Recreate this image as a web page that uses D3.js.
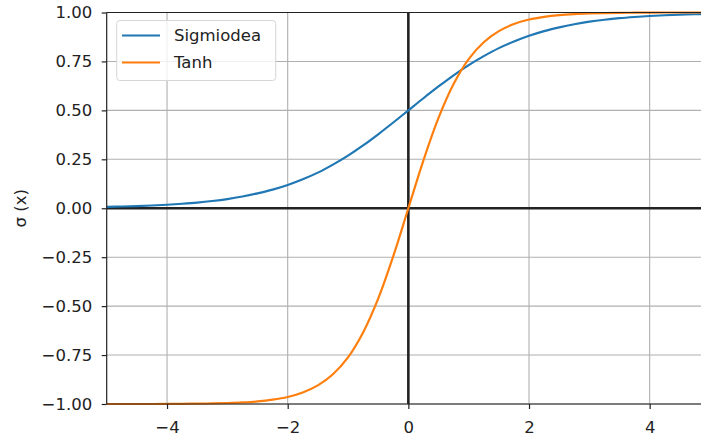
<!DOCTYPE html>
<html>
<head>
<meta charset="utf-8">
<script src="https://cdn.jsdelivr.net/npm/d3@7"></script>
<style>
  html, body { margin: 0; padding: 0; background: #fff; }
  svg { display: block; font-family: "DejaVu Sans", sans-serif; }
</style>
</head>
<body>
<svg id="chart" width="701" height="438"></svg>
<script>
// Sample positions along x
const xs = [-5, -4.75, -4.5, -4.25, -4, -3.75, -3.5, -3.25, -3, -2.75, -2.5, -2.25, -2,
  -1.75, -1.5, -1.25, -1, -0.75, -0.5, -0.25, 0, 0.25, 0.5, 0.75, 1, 1.25, 1.5, 1.75,
  2, 2.25, 2.5, 2.75, 3, 3.25, 3.5, 3.75, 4, 4.25, 4.5, 4.75, 5];

// Sigmoid curve values
const sigmoidValues = [0.007, 0.009, 0.011, 0.014, 0.018, 0.023, 0.029, 0.037, 0.047, 0.060,
  0.076, 0.095, 0.119, 0.148, 0.182, 0.223, 0.269, 0.321, 0.378, 0.438, 0.500, 0.562,
  0.622, 0.679, 0.731, 0.777, 0.818, 0.852, 0.881, 0.905, 0.924, 0.940, 0.953, 0.963,
  0.971, 0.977, 0.982, 0.986, 0.989, 0.991, 0.993];

// Tanh curve values
const tanhValues = [-1.000, -1.000, -1.000, -1.000, -0.999, -0.999, -0.998, -0.997, -0.995,
  -0.992, -0.987, -0.978, -0.964, -0.941, -0.905, -0.848, -0.762, -0.635, -0.462, -0.245,
  0.000, 0.245, 0.462, 0.635, 0.762, 0.848, 0.905, 0.941, 0.964, 0.978, 0.987, 0.992,
  0.995, 0.997, 0.998, 0.999, 0.999, 1.000, 1.000, 1.000, 1.000];

const seriesNames = ["Sigmiodea", "Tanh"];
const seriesColors = ["#1f77b4", "#ff7f0e"];
const xTicks = [-4, -2, 0, 2, 4];
const yTicks = [-1, -0.75, -0.5, -0.25, 0, 0.25, 0.5, 0.75, 1];
const yLabel = "σ (x)";

const svg = d3.select("#chart");
const plotLeft = 106.7, plotRight = 710, plotTop = 12.5, plotBottom = 404;
const fontSize = "16.5px";

const x = d3.scaleLinear().domain([-5, 5]).range([plotLeft, plotRight]);
const y = d3.scaleLinear().domain([-1, 1]).range([plotBottom, plotTop]);

const fmtY = v => d3.format(".2f")(v).replace("-", "\u2212");
const fmtX = v => String(v).replace("-", "\u2212");

// Grid
const grid = svg.append("g");
grid.selectAll("line.gx").data(xTicks).join("line")
  .attr("x1", d => x(d)).attr("x2", d => x(d))
  .attr("y1", plotTop).attr("y2", plotBottom)
  .attr("stroke", "#b0b0b0").attr("stroke-width", 1.1);
grid.selectAll("line.gy").data(yTicks).join("line")
  .attr("x1", plotLeft).attr("x2", plotRight)
  .attr("y1", d => y(d)).attr("y2", d => y(d))
  .attr("stroke", "#b0b0b0").attr("stroke-width", 1.1);

// Reference lines through the origin
svg.append("line")
  .attr("x1", plotLeft).attr("x2", plotRight).attr("y1", y(0)).attr("y2", y(0))
  .attr("stroke", "#222").attr("stroke-width", 2.6);
svg.append("line")
  .attr("x1", x(0)).attr("x2", x(0)).attr("y1", plotTop).attr("y2", plotBottom)
  .attr("stroke", "#222").attr("stroke-width", 2.6);

// Curves
svg.append("defs").append("clipPath").attr("id", "plotclip")
  .append("rect").attr("x", plotLeft).attr("y", plotTop - 2)
  .attr("width", plotRight - plotLeft).attr("height", plotBottom - plotTop + 4);

const line = d3.line().x(d => x(d[0])).y(d => y(d[1])).curve(d3.curveCatmullRom);
[sigmoidValues, tanhValues].forEach((vals, i) => {
  svg.append("path")
    .datum(xs.map((xv, k) => [xv, vals[k]]))
    .attr("clip-path", "url(#plotclip)")
    .attr("fill", "none")
    .attr("stroke", seriesColors[i])
    .attr("stroke-width", 2.2)
    .attr("d", line);
});

// Spines
const spine = (x1, y1, x2, y2) => svg.append("line")
  .attr("x1", x1).attr("y1", y1).attr("x2", x2).attr("y2", y2)
  .attr("stroke", "#222").attr("stroke-width", 1.2);
spine(plotLeft, plotTop, plotLeft, plotBottom);
spine(plotLeft, plotBottom, plotRight, plotBottom);
spine(plotLeft, plotTop, plotRight, plotTop);

// Axes
const xAxis = d3.axisBottom(x).tickValues(xTicks).tickFormat(fmtX).tickSize(5).tickPadding(12);
const yAxis = d3.axisLeft(y).tickValues(yTicks).tickFormat(fmtY).tickSize(5).tickPadding(9.5);

const gx = svg.append("g").attr("transform", `translate(0,${plotBottom})`).call(xAxis);
const gy = svg.append("g").attr("transform", `translate(${plotLeft},0)`).call(yAxis);
[gx, gy].forEach(g => {
  g.select(".domain").remove();
  g.selectAll(".tick line").attr("stroke", "#222").attr("stroke-width", 1.2);
  g.selectAll(".tick text").attr("fill", "#222")
    .style("font-family", "DejaVu Sans").style("font-size", fontSize);
});

// Y label
svg.append("text")
  .attr("transform", `translate(26,${y(0)}) rotate(-90)`)
  .attr("text-anchor", "middle")
  .attr("fill", "#222")
  .style("font-size", fontSize)
  .text(yLabel);

// Legend
const lg = svg.append("g");
lg.append("rect")
  .attr("x", 116.7).attr("y", 20.5).attr("width", 159).attr("height", 60)
  .attr("rx", 3).attr("fill", "rgba(255,255,255,0.8)")
  .attr("stroke", "#d6d6d6").attr("stroke-width", 1);
seriesNames.forEach((name, i) => {
  const cy = 35.5 + i * 27;
  lg.append("line").attr("x1", 122).attr("x2", 160).attr("y1", cy).attr("y2", cy)
    .attr("stroke", seriesColors[i]).attr("stroke-width", 2.2);
  lg.append("text").attr("x", 174).attr("y", cy).attr("dy", "0.35em")
    .attr("fill", "#222").style("font-size", fontSize).text(name);
});
</script>
</body>
</html>
